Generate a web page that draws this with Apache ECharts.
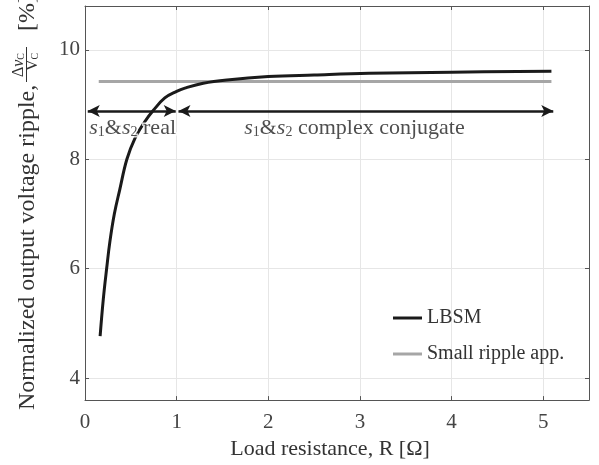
<!DOCTYPE html>
<html><head><meta charset="utf-8">
<script src="https://cdn.jsdelivr.net/npm/echarts@6/dist/echarts.min.js"></script>
<style>html,body{margin:0;padding:0;background:#fff}#c{width:599px;height:465px}</style>
</head><body><div id="c"></div>
<script>
// Data
var lbsmR   = [0.165,0.2,0.236,0.272,0.32,0.38,0.457,0.545,0.65,0.744,0.871,1.0,1.09,1.29,1.55,2.0,2.5,3.1,4.0,5.09];
var lbsmV   = [4.77,5.45,6.0,6.5,7.0,7.45,8.0,8.38,8.68,8.89,9.12,9.24,9.3,9.39,9.45,9.51,9.54,9.57,9.59,9.61];
var approxR = [0.15,5.09];
var approxV = [9.42,9.42];
var arrowY = 8.88;
var realRange = [0.03,0.99];
var complexRange = [1.02,5.11];
var xTicks = [0,1,2,3,4,5];
var yTicks = [4,6,8,10];

var FONT = 'Liberation Serif';
function pairs(a,b){return a.map(function(v,i){return [v,b[i]];});}
var chart = echarts.init(document.getElementById('c'));
var axisCol = '#555';
function xAx(pos, show){
  return {type:'value', position:pos, min:0, max:5.5, interval:1,
    axisLine:{show:true, onZero:false, lineStyle:{color:axisCol,width:1}},
    axisTick:{show:true, inside:true, length:4, lineStyle:{color:axisCol}},
    axisLabel:{show:show, margin:12, color:'#444', fontFamily:FONT, fontSize:21,
      formatter:function(v){return xTicks.indexOf(v)>=0? String(v):'';}},
    splitLine:{show:show, lineStyle:{color:'#e6e6e6',width:1}},
    name: show? 'Load resistance, R [Ω]':'', nameLocation:'middle', nameGap:35,
    nameTextStyle:{color:'#333', fontFamily:FONT, fontSize:22, padding:[0,14,0,0]}
  };
}
function yAx(pos, show){
  return {type:'value', position:pos, min:3.6, max:10.8,
    axisLine:{show:true, onZero:false, lineStyle:{color:axisCol,width:1}},
    axisTick:{show:true, inside:true, length:4, lineStyle:{color:axisCol}, customValues:yTicks},
    axisLabel:{show:show, margin:5, color:'#444', fontFamily:FONT, fontSize:21, customValues:yTicks},
    splitLine:{show:show, lineStyle:{color:'#e6e6e6',width:1}}
  };
}
var halo = {textBorderColor:'#fff', textBorderWidth:3};
var rich = {
  it:Object.assign({fontStyle:'italic', fontFamily:FONT, fontSize:22, color:'#222'}, halo),
  n:Object.assign({fontFamily:FONT, fontSize:22, color:'#222'}, halo),
  sub:Object.assign({fontFamily:FONT, fontSize:14, color:'#222', verticalAlign:'bottom', padding:[8,0,0,0]}, halo)
};
var option = {
  animation:false,
  backgroundColor:'#fff',
  grid:{left:85, right:10, top:6, bottom:61, containLabel:false},
  xAxis:[xAx('bottom',true), xAx('top',false)],
  yAxis:[yAx('left',true), yAx('right',false)],
  legend:{orient:'vertical', left:388, top:303, itemWidth:29, itemHeight:3, itemGap:16, icon:'rect',
    textStyle:{fontFamily:FONT, fontSize:20, color:'#333', lineHeight:20},
    data:['LBSM','Small ripple app.']},
  series:[
    {name:'Small ripple app.', type:'line', data:pairs(approxR,approxV), symbol:'none',
      lineStyle:{color:'#a6a6a6', width:3}, itemStyle:{color:'#a6a6a6'}, z:2},
    {name:'LBSM', type:'line', data:pairs(lbsmR,lbsmV), symbol:'none', smooth:0.4,
      lineStyle:{color:'#1a1a1a', width:3}, itemStyle:{color:'#1a1a1a'}, z:3},
    {name:'arrows', type:'line', data:[], symbol:'none',
      markLine:{silent:true, symbol:['arrow','arrow'], symbolSize:[9,12], label:{show:false},
        lineStyle:{color:'#1a1a1a', width:2.5, type:'solid'},
        data:[[{coord:[realRange[0],arrowY]},{coord:[realRange[1],arrowY]}],
              [{coord:[complexRange[0],arrowY]},{coord:[complexRange[1],arrowY]}]]}},
    {name:'labels', type:'scatter', symbolSize:0, z:5,
      data:[{value:[0.52,arrowY], lbl:'{it|s}{sub|1}{n|&}{it|s}{sub|2}{n| real}'},
            {value:[2.94,arrowY], lbl:'{it|s}{sub|1}{n|&}{it|s}{sub|2}{n| complex conjugate}'}],
      label:{show:true, position:'bottom', distance:6, formatter:function(p){return p.data.lbl;}, rich:rich}}
  ],
  graphic:[
    {type:'text', x:28, y:410, rotation:Math.PI/2, style:{text:'Normalized output voltage ripple,', fontFamily:FONT, fontSize:24, fill:'#333', textAlign:'left', textVerticalAlign:'middle'}},
    {type:'text', x:19, y:65, rotation:Math.PI/2, style:{text:'Δ{it|v}{s|C}', rich:{it:{fontStyle:'italic',fontFamily:FONT,fontSize:16,fill:'#333'}, s:{fontFamily:FONT,fontSize:10,fill:'#333',padding:[5,0,0,0]}}, fontFamily:FONT, fontSize:16, fill:'#333', textAlign:'center', textVerticalAlign:'middle'}},
    {type:'line', shape:{x1:26.5, y1:47, x2:26.5, y2:82}, style:{stroke:'#333', lineWidth:1}},
    {type:'text', x:33, y:62, rotation:Math.PI/2, style:{text:'V{s|C}', rich:{s:{fontFamily:FONT,fontSize:10,fill:'#333',padding:[5,0,0,0]}}, fontFamily:FONT, fontSize:16, fill:'#333', textAlign:'center', textVerticalAlign:'middle'}},
    {type:'text', x:28, y:31, rotation:Math.PI/2, style:{text:'[%]', fontFamily:FONT, fontSize:24, fill:'#333', textAlign:'left', textVerticalAlign:'middle'}}
  ]
};
chart.setOption(option);
</script></body></html>
